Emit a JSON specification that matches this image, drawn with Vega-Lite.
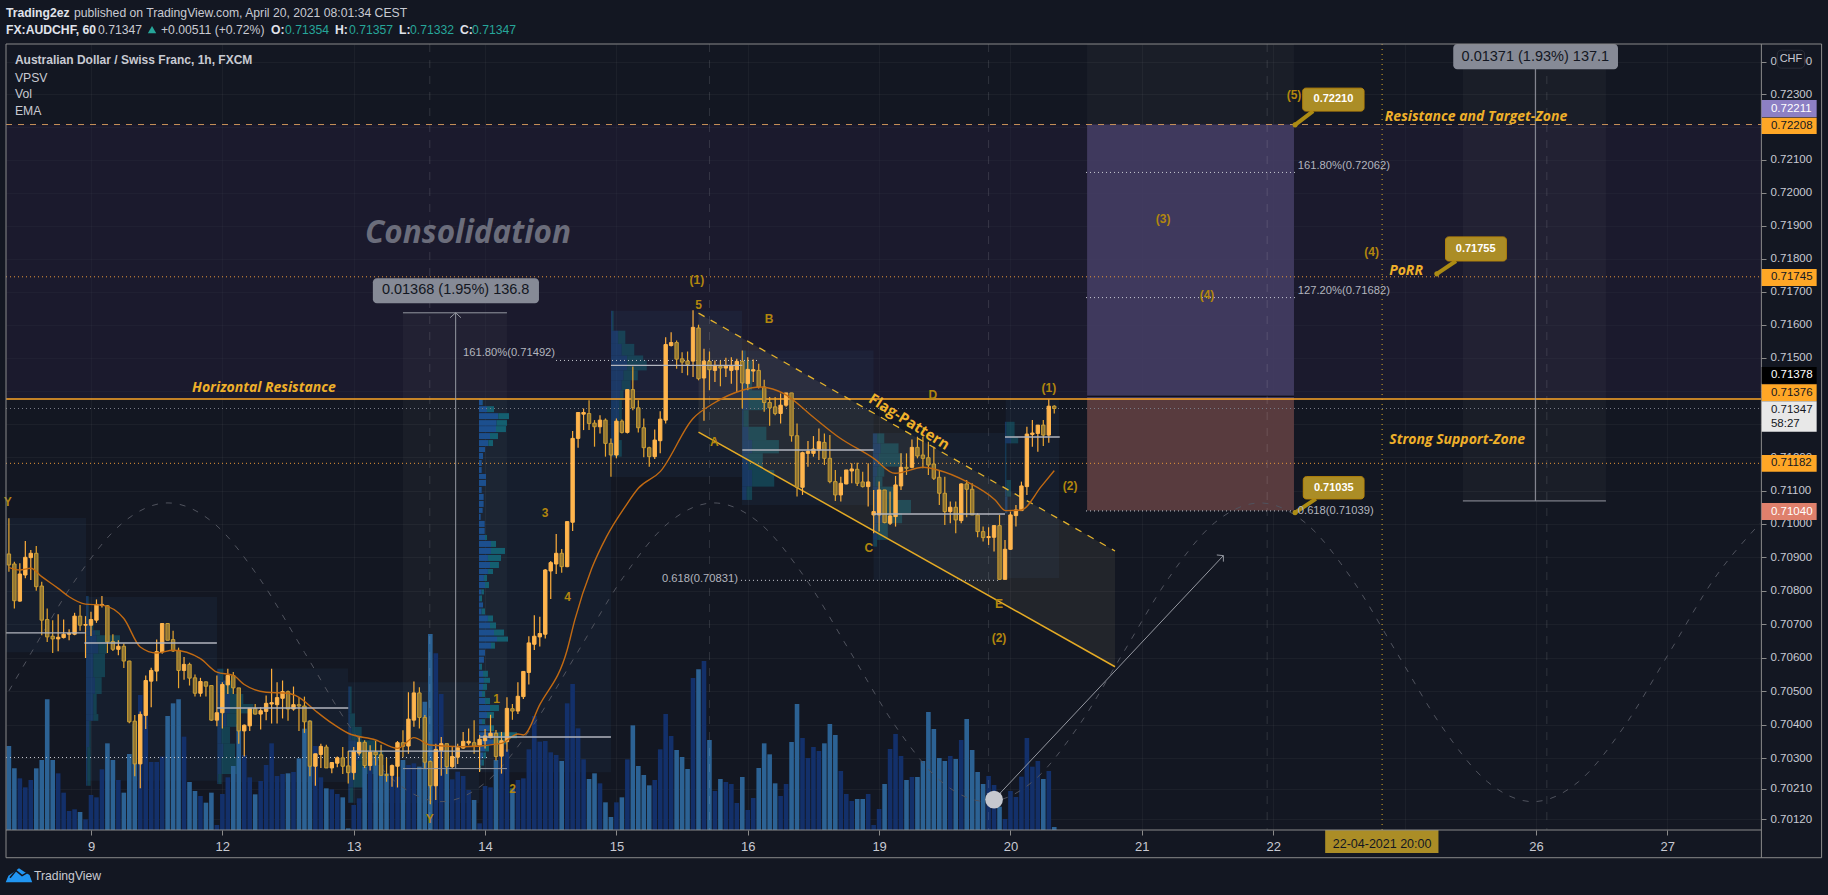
{
"$schema":"https://vega.github.io/schema/vega-lite/v6.json",
"width":1755,"height":786,
"autosize":{"type":"none"},
"padding":{"left":6,"top":44,"right":67,"bottom":65},
"background":"#131722",
"config":{"view":{"stroke":null},"text":{"font":"Liberation Sans"},"axis":{"labelFont":"Liberation Sans"}},
"datasets":{
"bars":[
{"h":-15,"o":0.70910,"hi":0.71017,"lo":0.70857,"c":0.70877,"v":252},
{"h":-14,"o":0.70880,"hi":0.70887,"lo":0.70747,"c":0.70770,"v":185},
{"h":-13,"o":0.70769,"hi":0.70882,"lo":0.70767,"c":0.70850,"v":155},
{"h":-12,"o":0.70847,"hi":0.70949,"lo":0.70837,"c":0.70900,"v":128},
{"h":-11,"o":0.70899,"hi":0.70922,"lo":0.70832,"c":0.70912,"v":150},
{"h":-10,"o":0.70912,"hi":0.70934,"lo":0.70800,"c":0.70812,"v":185},
{"h":-9,"o":0.70814,"hi":0.70827,"lo":0.70667,"c":0.70712,"v":210},
{"h":-8,"o":0.70714,"hi":0.70747,"lo":0.70647,"c":0.70662,"v":392},
{"h":-7,"o":0.70664,"hi":0.70712,"lo":0.70614,"c":0.70656,"v":210},
{"h":-6,"o":0.70656,"hi":0.70730,"lo":0.70619,"c":0.70661,"v":170},
{"h":-5,"o":0.70660,"hi":0.70714,"lo":0.70657,"c":0.70670,"v":112},
{"h":-4,"o":0.70670,"hi":0.70685,"lo":0.70652,"c":0.70672,"v":57},
{"h":-3,"o":0.70670,"hi":0.70734,"lo":0.70667,"c":0.70724,"v":62},
{"h":-2,"o":0.70724,"hi":0.70757,"lo":0.70680,"c":0.70697,"v":54},
{"h":-1,"o":0.70697,"hi":0.70724,"lo":0.70599,"c":0.70699,"v":32},
{"h":0,"o":0.70697,"hi":0.70737,"lo":0.70665,"c":0.70714,"v":105},
{"h":1,"o":0.70712,"hi":0.70774,"lo":0.70704,"c":0.70759,"v":98},
{"h":2,"o":0.70756,"hi":0.70784,"lo":0.70750,"c":0.70759,"v":182},
{"h":3,"o":0.70755,"hi":0.70757,"lo":0.70614,"c":0.70647,"v":260},
{"h":4,"o":0.70648,"hi":0.70670,"lo":0.70620,"c":0.70625,"v":210},
{"h":5,"o":0.70625,"hi":0.70652,"lo":0.70607,"c":0.70634,"v":150},
{"h":6,"o":0.70634,"hi":0.70642,"lo":0.70569,"c":0.70590,"v":112},
{"h":7,"o":0.70590,"hi":0.70591,"lo":0.70405,"c":0.70409,"v":228},
{"h":8,"o":0.70411,"hi":0.70429,"lo":0.70247,"c":0.70284,"v":317},
{"h":9,"o":0.70284,"hi":0.70440,"lo":0.70212,"c":0.70431,"v":405},
{"h":10,"o":0.70428,"hi":0.70547,"lo":0.70388,"c":0.70532,"v":342},
{"h":11,"o":0.70530,"hi":0.70570,"lo":0.70452,"c":0.70562,"v":204},
{"h":12,"o":0.70560,"hi":0.70654,"lo":0.70530,"c":0.70618,"v":204},
{"h":13,"o":0.70617,"hi":0.70702,"lo":0.70612,"c":0.70702,"v":220},
{"h":14,"o":0.70702,"hi":0.70702,"lo":0.70652,"c":0.70652,"v":342},
{"h":15,"o":0.70654,"hi":0.70680,"lo":0.70617,"c":0.70620,"v":380},
{"h":16,"o":0.70622,"hi":0.70630,"lo":0.70509,"c":0.70562,"v":392},
{"h":17,"o":0.70562,"hi":0.70602,"lo":0.70534,"c":0.70580,"v":280},
{"h":18,"o":0.70580,"hi":0.70585,"lo":0.70517,"c":0.70539,"v":144},
{"h":19,"o":0.70540,"hi":0.70550,"lo":0.70484,"c":0.70494,"v":117},
{"h":20,"o":0.70494,"hi":0.70540,"lo":0.70484,"c":0.70529,"v":102},
{"h":21,"o":0.70528,"hi":0.70529,"lo":0.70484,"c":0.70515,"v":82},
{"h":22,"o":0.70517,"hi":0.70517,"lo":0.70412,"c":0.70414,"v":112},
{"h":23,"o":0.70414,"hi":0.70547,"lo":0.70396,"c":0.70436,"v":15},
{"h":24,"o":0.70436,"hi":0.70527,"lo":0.70389,"c":0.70520,"v":108},
{"h":25,"o":0.70519,"hi":0.70567,"lo":0.70492,"c":0.70547,"v":158},
{"h":26,"o":0.70547,"hi":0.70557,"lo":0.70492,"c":0.70510,"v":192},
{"h":27,"o":0.70510,"hi":0.70510,"lo":0.70344,"c":0.70382,"v":317},
{"h":28,"o":0.70382,"hi":0.70401,"lo":0.70306,"c":0.70399,"v":225},
{"h":29,"o":0.70397,"hi":0.70449,"lo":0.70382,"c":0.70449,"v":158},
{"h":30,"o":0.70449,"hi":0.70462,"lo":0.70431,"c":0.70432,"v":107},
{"h":31,"o":0.70432,"hi":0.70452,"lo":0.70386,"c":0.70442,"v":147},
{"h":32,"o":0.70440,"hi":0.70487,"lo":0.70414,"c":0.70464,"v":195},
{"h":33,"o":0.70462,"hi":0.70567,"lo":0.70404,"c":0.70466,"v":260},
{"h":34,"o":0.70460,"hi":0.70527,"lo":0.70404,"c":0.70481,"v":162},
{"h":35,"o":0.70479,"hi":0.70532,"lo":0.70419,"c":0.70499,"v":168},
{"h":36,"o":0.70499,"hi":0.70502,"lo":0.70412,"c":0.70447,"v":170},
{"h":37,"o":0.70447,"hi":0.70514,"lo":0.70442,"c":0.70460,"v":174},
{"h":38,"o":0.70460,"hi":0.70482,"lo":0.70382,"c":0.70456,"v":215},
{"h":39,"o":0.70456,"hi":0.70484,"lo":0.70376,"c":0.70409,"v":304},
{"h":40,"o":0.70411,"hi":0.70414,"lo":0.70247,"c":0.70277,"v":328},
{"h":41,"o":0.70277,"hi":0.70314,"lo":0.70219,"c":0.70314,"v":252},
{"h":42,"o":0.70312,"hi":0.70344,"lo":0.70272,"c":0.70336,"v":158},
{"h":43,"o":0.70334,"hi":0.70341,"lo":0.70272,"c":0.70272,"v":125},
{"h":44,"o":0.70272,"hi":0.70289,"lo":0.70256,"c":0.70288,"v":122},
{"h":45,"o":0.70286,"hi":0.70306,"lo":0.70274,"c":0.70302,"v":108},
{"h":46,"o":0.70302,"hi":0.70334,"lo":0.70254,"c":0.70277,"v":98},
{"h":47,"o":0.70278,"hi":0.70322,"lo":0.70226,"c":0.70258,"v":5},
{"h":48,"o":0.70258,"hi":0.70334,"lo":0.70237,"c":0.70322,"v":75},
{"h":49,"o":0.70316,"hi":0.70364,"lo":0.70309,"c":0.70348,"v":95},
{"h":50,"o":0.70348,"hi":0.70354,"lo":0.70272,"c":0.70279,"v":190},
{"h":51,"o":0.70279,"hi":0.70339,"lo":0.70264,"c":0.70319,"v":212},
{"h":52,"o":0.70319,"hi":0.70352,"lo":0.70279,"c":0.70311,"v":220},
{"h":53,"o":0.70311,"hi":0.70341,"lo":0.70249,"c":0.70250,"v":195},
{"h":54,"o":0.70252,"hi":0.70302,"lo":0.70231,"c":0.70250,"v":170},
{"h":55,"o":0.70250,"hi":0.70282,"lo":0.70216,"c":0.70279,"v":162},
{"h":56,"o":0.70277,"hi":0.70352,"lo":0.70214,"c":0.70347,"v":160},
{"h":57,"o":0.70347,"hi":0.70384,"lo":0.70304,"c":0.70336,"v":210},
{"h":58,"o":0.70337,"hi":0.70497,"lo":0.70314,"c":0.70417,"v":195},
{"h":59,"o":0.70414,"hi":0.70529,"lo":0.70394,"c":0.70495,"v":200},
{"h":60,"o":0.70495,"hi":0.70512,"lo":0.70389,"c":0.70422,"v":190},
{"h":61,"o":0.70422,"hi":0.70429,"lo":0.70269,"c":0.70289,"v":385},
{"h":62,"o":0.70291,"hi":0.70294,"lo":0.70164,"c":0.70219,"v":588},
{"h":63,"o":0.70219,"hi":0.70344,"lo":0.70177,"c":0.70327,"v":530},
{"h":64,"o":0.70324,"hi":0.70364,"lo":0.70249,"c":0.70344,"v":408},
{"h":65,"o":0.70344,"hi":0.70344,"lo":0.70254,"c":0.70276,"v":210},
{"h":66,"o":0.70276,"hi":0.70334,"lo":0.70272,"c":0.70306,"v":152},
{"h":67,"o":0.70304,"hi":0.70344,"lo":0.70284,"c":0.70332,"v":175},
{"h":68,"o":0.70331,"hi":0.70379,"lo":0.70329,"c":0.70351,"v":162},
{"h":69,"o":0.70346,"hi":0.70389,"lo":0.70339,"c":0.70351,"v":120},
{"h":70,"o":0.70347,"hi":0.70414,"lo":0.70314,"c":0.70336,"v":90},
{"h":71,"o":0.70340,"hi":0.70370,"lo":0.70260,"c":0.70357,"v":20},
{"h":72,"o":0.70353,"hi":0.70388,"lo":0.70330,"c":0.70367,"v":132},
{"h":73,"o":0.70362,"hi":0.70430,"lo":0.70360,"c":0.70375,"v":128},
{"h":74,"o":0.70375,"hi":0.70385,"lo":0.70294,"c":0.70306,"v":210},
{"h":75,"o":0.70307,"hi":0.70379,"lo":0.70255,"c":0.70353,"v":270},
{"h":76,"o":0.70350,"hi":0.70482,"lo":0.70320,"c":0.70449,"v":242},
{"h":77,"o":0.70448,"hi":0.70462,"lo":0.70415,"c":0.70441,"v":125},
{"h":78,"o":0.70441,"hi":0.70527,"lo":0.70432,"c":0.70485,"v":150},
{"h":79,"o":0.70484,"hi":0.70560,"lo":0.70477,"c":0.70559,"v":155},
{"h":80,"o":0.70556,"hi":0.70664,"lo":0.70520,"c":0.70644,"v":242},
{"h":81,"o":0.70640,"hi":0.70727,"lo":0.70623,"c":0.70664,"v":342},
{"h":82,"o":0.70662,"hi":0.70722,"lo":0.70633,"c":0.70672,"v":265},
{"h":83,"o":0.70670,"hi":0.70865,"lo":0.70657,"c":0.70862,"v":267},
{"h":84,"o":0.70859,"hi":0.70889,"lo":0.70775,"c":0.70884,"v":233},
{"h":85,"o":0.70880,"hi":0.70970,"lo":0.70850,"c":0.70912,"v":225},
{"h":86,"o":0.70912,"hi":0.70925,"lo":0.70854,"c":0.70872,"v":207},
{"h":87,"o":0.70872,"hi":0.71007,"lo":0.70870,"c":0.71007,"v":380},
{"h":88,"o":0.71005,"hi":0.71279,"lo":0.70979,"c":0.71257,"v":438},
{"h":89,"o":0.71257,"hi":0.71335,"lo":0.71229,"c":0.71335,"v":305},
{"h":90,"o":0.71330,"hi":0.71347,"lo":0.71282,"c":0.71335,"v":212},
{"h":91,"o":0.71332,"hi":0.71372,"lo":0.71282,"c":0.71302,"v":153},
{"h":92,"o":0.71303,"hi":0.71312,"lo":0.71232,"c":0.71292,"v":170},
{"h":93,"o":0.71292,"hi":0.71327,"lo":0.71272,"c":0.71312,"v":140},
{"h":94,"o":0.71312,"hi":0.71317,"lo":0.71202,"c":0.71242,"v":83},
{"h":95,"o":0.71242,"hi":0.71257,"lo":0.71142,"c":0.71207,"v":39},
{"h":96,"o":0.71207,"hi":0.71317,"lo":0.71197,"c":0.71309,"v":83},
{"h":97,"o":0.71309,"hi":0.71314,"lo":0.71272,"c":0.71275,"v":98},
{"h":98,"o":0.71275,"hi":0.71404,"lo":0.71272,"c":0.71404,"v":212},
{"h":99,"o":0.71404,"hi":0.71474,"lo":0.71342,"c":0.71349,"v":314},
{"h":100,"o":0.71349,"hi":0.71372,"lo":0.71275,"c":0.71289,"v":192},
{"h":101,"o":0.71289,"hi":0.71317,"lo":0.71200,"c":0.71229,"v":165},
{"h":102,"o":0.71229,"hi":0.71232,"lo":0.71172,"c":0.71202,"v":134},
{"h":103,"o":0.71202,"hi":0.71284,"lo":0.71195,"c":0.71252,"v":150},
{"h":104,"o":0.71250,"hi":0.71339,"lo":0.71212,"c":0.71315,"v":242},
{"h":105,"o":0.71312,"hi":0.71562,"lo":0.71302,"c":0.71540,"v":348},
{"h":106,"o":0.71537,"hi":0.71577,"lo":0.71534,"c":0.71546,"v":282},
{"h":107,"o":0.71546,"hi":0.71552,"lo":0.71467,"c":0.71496,"v":240},
{"h":108,"o":0.71497,"hi":0.71517,"lo":0.71454,"c":0.71487,"v":219},
{"h":109,"o":0.71490,"hi":0.71519,"lo":0.71447,"c":0.71480,"v":183},
{"h":110,"o":0.71490,"hi":0.71644,"lo":0.71442,"c":0.71592,"v":456},
{"h":111,"o":0.71590,"hi":0.71600,"lo":0.71432,"c":0.71437,"v":482},
{"h":112,"o":0.71439,"hi":0.71527,"lo":0.71310,"c":0.71490,"v":507},
{"h":113,"o":0.71489,"hi":0.71519,"lo":0.71402,"c":0.71464,"v":270},
{"h":114,"o":0.71462,"hi":0.71492,"lo":0.71427,"c":0.71477,"v":117},
{"h":115,"o":0.71474,"hi":0.71492,"lo":0.71414,"c":0.71469,"v":153},
{"h":116,"o":0.71469,"hi":0.71500,"lo":0.71442,"c":0.71475,"v":144},
{"h":117,"o":0.71462,"hi":0.71502,"lo":0.71422,"c":0.71477,"v":138},
{"h":118,"o":0.71464,"hi":0.71497,"lo":0.71397,"c":0.71489,"v":81},
{"h":119,"o":0.71489,"hi":0.71522,"lo":0.71347,"c":0.71424,"v":159},
{"h":120,"o":0.71422,"hi":0.71502,"lo":0.71402,"c":0.71465,"v":60},
{"h":121,"o":0.71460,"hi":0.71495,"lo":0.71427,"c":0.71464,"v":96},
{"h":122,"o":0.71462,"hi":0.71482,"lo":0.71407,"c":0.71412,"v":186},
{"h":123,"o":0.71412,"hi":0.71434,"lo":0.71337,"c":0.71365,"v":260},
{"h":124,"o":0.71365,"hi":0.71382,"lo":0.71295,"c":0.71349,"v":227},
{"h":125,"o":0.71352,"hi":0.71382,"lo":0.71327,"c":0.71332,"v":140},
{"h":126,"o":0.71332,"hi":0.71392,"lo":0.71302,"c":0.71357,"v":102},
{"h":127,"o":0.71357,"hi":0.71394,"lo":0.71352,"c":0.71394,"v":138},
{"h":128,"o":0.71394,"hi":0.71394,"lo":0.71247,"c":0.71265,"v":264},
{"h":129,"o":0.71265,"hi":0.71302,"lo":0.71082,"c":0.71110,"v":378},
{"h":130,"o":0.71110,"hi":0.71217,"lo":0.71087,"c":0.71214,"v":276},
{"h":131,"o":0.71212,"hi":0.71249,"lo":0.71172,"c":0.71218,"v":216},
{"h":132,"o":0.71212,"hi":0.71264,"lo":0.71202,"c":0.71225,"v":249},
{"h":133,"o":0.71222,"hi":0.71287,"lo":0.71192,"c":0.71247,"v":237},
{"h":134,"o":0.71245,"hi":0.71272,"lo":0.71177,"c":0.71197,"v":260},
{"h":135,"o":0.71197,"hi":0.71267,"lo":0.71122,"c":0.71127,"v":318},
{"h":136,"o":0.71127,"hi":0.71162,"lo":0.71069,"c":0.71087,"v":285},
{"h":137,"o":0.71087,"hi":0.71142,"lo":0.71067,"c":0.71122,"v":177},
{"h":138,"o":0.71120,"hi":0.71162,"lo":0.71119,"c":0.71162,"v":108},
{"h":139,"o":0.71159,"hi":0.71182,"lo":0.71122,"c":0.71165,"v":87},
{"h":140,"o":0.71164,"hi":0.71184,"lo":0.71114,"c":0.71122,"v":93},
{"h":141,"o":0.71126,"hi":0.71157,"lo":0.71109,"c":0.71112,"v":93},
{"h":142,"o":0.71112,"hi":0.71182,"lo":0.71052,"c":0.71126,"v":108},
{"h":143,"o":0.71027,"hi":0.71102,"lo":0.70972,"c":0.71037,"v":15},
{"h":144,"o":0.71027,"hi":0.71127,"lo":0.70977,"c":0.71102,"v":63},
{"h":145,"o":0.71102,"hi":0.71102,"lo":0.71002,"c":0.71004,"v":138},
{"h":146,"o":0.71002,"hi":0.71097,"lo":0.70997,"c":0.71024,"v":243},
{"h":147,"o":0.71022,"hi":0.71144,"lo":0.70992,"c":0.71117,"v":288},
{"h":148,"o":0.71114,"hi":0.71212,"lo":0.71102,"c":0.71170,"v":222},
{"h":149,"o":0.71170,"hi":0.71212,"lo":0.71147,"c":0.71167,"v":150},
{"h":150,"o":0.71170,"hi":0.71254,"lo":0.71167,"c":0.71230,"v":159},
{"h":151,"o":0.71230,"hi":0.71262,"lo":0.71197,"c":0.71204,"v":159},
{"h":152,"o":0.71207,"hi":0.71262,"lo":0.71167,"c":0.71197,"v":207},
{"h":153,"o":0.71199,"hi":0.71247,"lo":0.71147,"c":0.71177,"v":354},
{"h":154,"o":0.71180,"hi":0.71232,"lo":0.71132,"c":0.71137,"v":303},
{"h":155,"o":0.71140,"hi":0.71162,"lo":0.71057,"c":0.71092,"v":216},
{"h":156,"o":0.71092,"hi":0.71142,"lo":0.70997,"c":0.71037,"v":207},
{"h":157,"o":0.71037,"hi":0.71067,"lo":0.71002,"c":0.71050,"v":222},
{"h":158,"o":0.71050,"hi":0.71067,"lo":0.70972,"c":0.71012,"v":213},
{"h":159,"o":0.71010,"hi":0.71122,"lo":0.71002,"c":0.71120,"v":270},
{"h":160,"o":0.71120,"hi":0.71132,"lo":0.71020,"c":0.71104,"v":333},
{"h":161,"o":0.71104,"hi":0.71122,"lo":0.71027,"c":0.71027,"v":240},
{"h":162,"o":0.71027,"hi":0.71032,"lo":0.70960,"c":0.70977,"v":174},
{"h":163,"o":0.70977,"hi":0.70992,"lo":0.70947,"c":0.70959,"v":138},
{"h":164,"o":0.70959,"hi":0.70990,"lo":0.70937,"c":0.70962,"v":162},
{"h":165,"o":0.70960,"hi":0.70995,"lo":0.70917,"c":0.70995,"v":135},
{"h":166,"o":0.70995,"hi":0.71027,"lo":0.70834,"c":0.70834,"v":70},
{"h":167,"o":0.70834,"hi":0.70952,"lo":0.70834,"c":0.70924,"v":33},
{"h":168,"o":0.70924,"hi":0.71037,"lo":0.70922,"c":0.71027,"v":117},
{"h":169,"o":0.71025,"hi":0.71057,"lo":0.70992,"c":0.71042,"v":99},
{"h":170,"o":0.71040,"hi":0.71127,"lo":0.71040,"c":0.71114,"v":160},
{"h":171,"o":0.71112,"hi":0.71292,"lo":0.71087,"c":0.71270,"v":276},
{"h":172,"o":0.71269,"hi":0.71312,"lo":0.71232,"c":0.71273,"v":190},
{"h":173,"o":0.71272,"hi":0.71297,"lo":0.71217,"c":0.71297,"v":207},
{"h":174,"o":0.71297,"hi":0.71312,"lo":0.71234,"c":0.71267,"v":153},
{"h":175,"o":0.71267,"hi":0.71374,"lo":0.71244,"c":0.71354,"v":177},
{"h":176,"o":0.71354,"hi":0.71357,"lo":0.71332,"c":0.71347,"v":9}
],
"vp":[
{"h":-0.91,"h2":-0.55,"h3":-0.43,"p":0.70784,"p2":0.70712},
{"h":-0.91,"h2":0.12,"h3":0.43,"p":0.70712,"p2":0.70682},
{"h":-0.91,"h2":0.73,"h3":1.64,"p":0.70682,"p2":0.70667},
{"h":-0.91,"h2":1.04,"h3":5.3,"p":0.70667,"p2":0.70642},
{"h":-0.91,"h2":1.34,"h3":2.86,"p":0.70642,"p2":0.70612},
{"h":-0.91,"h2":0.43,"h3":2.56,"p":0.70612,"p2":0.70542},
{"h":-0.91,"h2":0.73,"h3":1.95,"p":0.70542,"p2":0.70492},
{"h":-0.91,"h2":0.43,"h3":1.04,"p":0.70492,"p2":0.70432},
{"h":-0.91,"h2":0.43,"h3":1.34,"p":0.70432,"p2":0.70412},
{"h":-0.91,"h2":-0.3,"h3":-0.06,"p":0.70412,"p2":0.70334},
{"h":-0.91,"h2":-0.67,"h3":-0.06,"p":0.70334,"p2":0.70219},
{"h":23.08,"h2":23.57,"h3":24.18,"p":0.70567,"p2":0.70532},
{"h":23.08,"h2":24.48,"h3":26.0,"p":0.70532,"p2":0.70492},
{"h":23.08,"h2":25.4,"h3":27.83,"p":0.70492,"p2":0.70462},
{"h":23.08,"h2":25.4,"h3":29.66,"p":0.70462,"p2":0.70434},
{"h":23.08,"h2":24.79,"h3":27.22,"p":0.70434,"p2":0.70394},
{"h":23.08,"h2":23.87,"h3":25.4,"p":0.70394,"p2":0.70344},
{"h":23.08,"h2":24.18,"h3":26.31,"p":0.70344,"p2":0.70304},
{"h":23.08,"h2":23.87,"h3":27.22,"p":0.70304,"p2":0.70254},
{"h":23.08,"h2":23.26,"h3":23.87,"p":0.70254,"p2":0.70224},
{"h":47.01,"h2":47.32,"h3":47.62,"p":0.70514,"p2":0.70434},
{"h":47.01,"h2":47.32,"h3":48.23,"p":0.70434,"p2":0.70394},
{"h":47.01,"h2":47.62,"h3":49.45,"p":0.70394,"p2":0.70354},
{"h":47.01,"h2":48.54,"h3":52.19,"p":0.70354,"p2":0.70322},
{"h":47.01,"h2":49.15,"h3":53.41,"p":0.70322,"p2":0.70294},
{"h":47.01,"h2":48.54,"h3":52.19,"p":0.70294,"p2":0.70254},
{"h":47.01,"h2":47.93,"h3":49.75,"p":0.70254,"p2":0.70214},
{"h":47.01,"h2":47.32,"h3":47.93,"p":0.70214,"p2":0.70169},
{"h":70.89,"h2":71.56,"h3":71.62,"p":0.71374,"p2":0.71357},
{"h":70.89,"h2":72.35,"h3":73.63,"p":0.71354,"p2":0.71336},
{"h":70.89,"h2":74.42,"h3":76.37,"p":0.71333,"p2":0.71315},
{"h":70.89,"h2":74.12,"h3":76.0,"p":0.71312,"p2":0.71295},
{"h":70.89,"h2":74.0,"h3":75.82,"p":0.71294,"p2":0.71276},
{"h":70.89,"h2":72.9,"h3":74.36,"p":0.71273,"p2":0.71255},
{"h":70.89,"h2":72.6,"h3":73.45,"p":0.71252,"p2":0.71234},
{"h":70.89,"h2":71.99,"h3":71.99,"p":0.71231,"p2":0.71216},
{"h":70.89,"h2":71.62,"h3":71.62,"p":0.71213,"p2":0.71195},
{"h":70.89,"h2":71.38,"h3":71.38,"p":0.71192,"p2":0.71174},
{"h":70.89,"h2":71.38,"h3":71.38,"p":0.71171,"p2":0.71153},
{"h":70.89,"h2":72.17,"h3":72.17,"p":0.7115,"p2":0.71135},
{"h":70.89,"h2":72.17,"h3":72.17,"p":0.71132,"p2":0.71114},
{"h":70.89,"h2":71.38,"h3":71.38,"p":0.71111,"p2":0.71093},
{"h":70.89,"h2":71.74,"h3":71.74,"p":0.7109,"p2":0.71072},
{"h":70.89,"h2":71.74,"h3":71.74,"p":0.71069,"p2":0.71051},
{"h":70.89,"h2":71.56,"h3":71.56,"p":0.71048,"p2":0.71033},
{"h":70.89,"h2":71.2,"h3":71.2,"p":0.7103,"p2":0.71012},
{"h":70.89,"h2":71.93,"h3":71.93,"p":0.71009,"p2":0.70991},
{"h":70.89,"h2":71.93,"h3":71.93,"p":0.70988,"p2":0.7097},
{"h":70.89,"h2":71.99,"h3":72.35,"p":0.70967,"p2":0.70952},
{"h":70.89,"h2":73.08,"h3":74.0,"p":0.70949,"p2":0.70931},
{"h":70.89,"h2":73.08,"h3":75.64,"p":0.70928,"p2":0.7091},
{"h":70.89,"h2":72.53,"h3":74.91,"p":0.70907,"p2":0.70889},
{"h":70.89,"h2":72.9,"h3":74.54,"p":0.70886,"p2":0.70868},
{"h":70.89,"h2":72.53,"h3":73.45,"p":0.70865,"p2":0.7085},
{"h":70.89,"h2":71.8,"h3":72.35,"p":0.70847,"p2":0.70829},
{"h":70.89,"h2":71.99,"h3":72.72,"p":0.70826,"p2":0.70808},
{"h":70.89,"h2":71.38,"h3":71.8,"p":0.70804,"p2":0.70789},
{"h":70.89,"h2":71.07,"h3":71.44,"p":0.70786,"p2":0.70768},
{"h":70.89,"h2":71.62,"h3":71.62,"p":0.70765,"p2":0.7075},
{"h":70.89,"h2":71.38,"h3":71.99,"p":0.70747,"p2":0.70729},
{"h":70.89,"h2":72.53,"h3":73.45,"p":0.70726,"p2":0.70708},
{"h":70.89,"h2":72.9,"h3":74.0,"p":0.70705,"p2":0.70687},
{"h":70.89,"h2":73.63,"h3":75.46,"p":0.70684,"p2":0.70666},
{"h":70.89,"h2":74.18,"h3":76.19,"p":0.70663,"p2":0.70648},
{"h":70.89,"h2":73.08,"h3":73.81,"p":0.70645,"p2":0.70627},
{"h":70.89,"h2":71.99,"h3":71.99,"p":0.70624,"p2":0.70606},
{"h":70.89,"h2":71.8,"h3":71.8,"p":0.70603,"p2":0.70585},
{"h":70.89,"h2":71.07,"h3":71.44,"p":0.70582,"p2":0.70564},
{"h":70.89,"h2":71.62,"h3":72.53,"p":0.70561,"p2":0.70543},
{"h":70.89,"h2":71.8,"h3":72.9,"p":0.7054,"p2":0.70525},
{"h":70.89,"h2":71.62,"h3":72.35,"p":0.70522,"p2":0.70504},
{"h":70.89,"h2":71.44,"h3":71.99,"p":0.70501,"p2":0.70483},
{"h":70.89,"h2":71.99,"h3":72.9,"p":0.7048,"p2":0.70462},
{"h":70.89,"h2":72.9,"h3":74.54,"p":0.70459,"p2":0.70441},
{"h":70.89,"h2":72.35,"h3":73.63,"p":0.70438,"p2":0.7042},
{"h":70.89,"h2":71.44,"h3":71.99,"p":0.70417,"p2":0.70402},
{"h":70.89,"h2":72.72,"h3":73.63,"p":0.70399,"p2":0.70381},
{"h":70.89,"h2":74.42,"h3":77.83,"p":0.70378,"p2":0.7036},
{"h":70.89,"h2":73.45,"h3":76.0,"p":0.70357,"p2":0.70342},
{"h":70.89,"h2":71.99,"h3":72.72,"p":0.70339,"p2":0.70321},
{"h":70.89,"h2":71.68,"h3":72.17,"p":0.70318,"p2":0.703},
{"h":70.89,"h2":71.38,"h3":71.8,"p":0.70297,"p2":0.70279},
{"h":70.89,"h2":71.07,"h3":71.26,"p":0.70279,"p2":0.70264},
{"h":95.02,"h2":95.2,"h3":95.48,"p":0.71642,"p2":0.71582},
{"h":95.02,"h2":96.32,"h3":97.63,"p":0.71582,"p2":0.71542},
{"h":95.02,"h2":96.98,"h3":99.26,"p":0.71542,"p2":0.71507},
{"h":95.02,"h2":97.96,"h3":100.89,"p":0.71507,"p2":0.71492},
{"h":95.02,"h2":97.96,"h3":101.54,"p":0.71492,"p2":0.71462},
{"h":95.02,"h2":97.3,"h3":99.91,"p":0.71462,"p2":0.71432},
{"h":95.02,"h2":96.98,"h3":98.61,"p":0.71432,"p2":0.71402},
{"h":95.02,"h2":96.65,"h3":97.3,"p":0.71402,"p2":0.71372},
{"h":95.02,"h2":96.52,"h3":96.98,"p":0.71372,"p2":0.71312},
{"h":95.02,"h2":96.0,"h3":96.52,"p":0.71312,"p2":0.71252},
{"h":95.02,"h2":95.67,"h3":96.98,"p":0.71252,"p2":0.71202},
{"h":118.97,"h2":119.36,"h3":119.62,"p":0.71522,"p2":0.71492},
{"h":118.97,"h2":119.49,"h3":120.79,"p":0.71492,"p2":0.71402},
{"h":118.97,"h2":120.14,"h3":123.4,"p":0.71402,"p2":0.71342},
{"h":118.97,"h2":119.23,"h3":120.14,"p":0.71342,"p2":0.71292},
{"h":118.97,"h2":120.14,"h3":123.4,"p":0.71292,"p2":0.71252},
{"h":118.97,"h2":120.79,"h3":125.69,"p":0.71252,"p2":0.71212},
{"h":118.97,"h2":120.14,"h3":122.75,"p":0.71212,"p2":0.71162},
{"h":118.97,"h2":120.79,"h3":124.84,"p":0.71162,"p2":0.71112},
{"h":118.97,"h2":119.81,"h3":120.79,"p":0.71112,"p2":0.71072},
{"h":142.85,"h2":143.63,"h3":144.94,"p":0.71272,"p2":0.71242},
{"h":142.85,"h2":144.28,"h3":147.55,"p":0.71242,"p2":0.71212},
{"h":142.85,"h2":143.96,"h3":148.2,"p":0.71212,"p2":0.71172},
{"h":142.85,"h2":143.63,"h3":144.94,"p":0.71172,"p2":0.71142},
{"h":142.85,"h2":143.3,"h3":144.61,"p":0.71142,"p2":0.71112},
{"h":142.85,"h2":143.96,"h3":146.89,"p":0.71112,"p2":0.71072},
{"h":142.85,"h2":144.94,"h3":149.83,"p":0.71072,"p2":0.71032},
{"h":142.85,"h2":144.94,"h3":148.2,"p":0.71032,"p2":0.71002},
{"h":142.85,"h2":143.63,"h3":145.59,"p":0.71002,"p2":0.70952},
{"h":142.85,"h2":142.98,"h3":143.63,"p":0.70952,"p2":0.70932},
{"h":166.99,"h2":167.25,"h3":168.75,"p":0.71307,"p2":0.71262},
{"h":166.99,"h2":168.1,"h3":169.41,"p":0.71262,"p2":0.71242},
{"h":166.99,"h2":167.12,"h3":167.25,"p":0.71242,"p2":0.71132},
{"h":166.99,"h2":167.25,"h3":168.1,"p":0.71132,"p2":0.71082},
{"h":166.99,"h2":167.45,"h3":167.45,"p":0.71082,"p2":0.71032}
]
},
"encoding":{
"x":{"field":"h","type":"quantitative","scale":{"domain":[-15.53,305.13],"nice":false,"zero":false,"padding":0},
 "axis":{"values":[0,24,48,72,96,120,144,168,192,216,240,264,288],"labelExpr":"['9','12','13','14','15','16','19','20','21','22','23','26','27'][datum.value/24]","title":null,"grid":true,"gridColor":"#ffffff","gridOpacity":0.04,"domain":false,"tickColor":"#8a8a8a","tickSize":5,"labelColor":"#c8cad2","labelFontSize":13,"labelPadding":5,"labelFlush":false,"labelOverlap":false}},
"y":{"field":"p","type":"quantitative","scale":{"type":"log","domain":[0.70088,0.72454],"nice":false,"zero":false},"axis":null}
},
"resolve":{"scale":{"y":"independent"}},
"layer":[
{"encoding":{"y":{"field":"p","type":"quantitative","scale":{"type":"log","domain":[0.70088,0.72454],"nice":false,"zero":false},
    "axis":{"orient":"right","values":[0.724,0.723,0.722,0.721,0.72,0.719,0.718,0.717,0.716,0.715,0.714,0.713,0.712,0.711,0.71,0.709,0.708,0.707,0.706,0.705,0.704,0.703,0.7021,0.7012],"format":".5f","title":null,"grid":true,"gridColor":"#ffffff","gridOpacity":0.04,"domain":false,"tickColor":"#8a8a8a","tickSize":5,"labelColor":"#c8cad2","labelFontSize":11.5,"labelPadding":4,"labelOverlap":false,"labelFlush":false}}},
"layer":[
 {"mark":{"type":"rect","fill":"#28213e","opacity":0.4},
  "data":{"values":[{"h":-15.53,"h2":305.13,"p":0.72208,"p2":0.71376}]},
  "encoding":{"x2":{"field":"h2"},"y2":{"field":"p2"}}},
 {"mark":{"type":"rect","fill":"#ffffff","opacity":0.03},
  "data":{"values":[{"h":182.0,"h2":219.8,"p":0.72454,"p2":0.72208},{"h":250.66,"h2":276.8,"p":0.72454,"p2":0.71069},{"h":57.0,"h2":76.0,"p":0.71636,"p2":0.7027}]},
  "encoding":{"x2":{"field":"h2"},"y2":{"field":"p2"}}},
 {"mark":{"type":"rect","fill":"#3b6ea5","opacity":0.09},
  "data":{"values":[
   {"h":-15.53,"h2":-0.91,"p":0.71018,"p2":0.70616},{"h":-0.91,"h2":23.02,"p":0.70781,"p2":0.70234},{"h":23.02,"h2":46.96,"p":0.70568,"p2":0.7023},{"h":46.96,"h2":70.89,"p":0.70527,"p2":0.70168},{"h":70.89,"h2":95.01,"p":0.71376,"p2":0.70259},{"h":95.01,"h2":118.95,"p":0.71642,"p2":0.71141},{"h":118.95,"h2":142.99,"p":0.71522,"p2":0.71057},{"h":142.99,"h2":167.13,"p":0.71273,"p2":0.70832},{"h":167.13,"h2":176.87,"p":0.71376,"p2":0.70838}]},
  "encoding":{"x2":{"field":"h2"},"y2":{"field":"p2"}}},
 {"mark":{"type":"rect","fill":"#1c4f8e"},"data":{"name":"vp"},"encoding":{"x2":{"field":"h2"},"y2":{"field":"p2"},"opacity":{"condition":{"test":"datum.h==70.89","value":1},"value":0.55}}},
 {"mark":{"type":"rect","fill":"#145f70"},"data":{"name":"vp"},"encoding":{"x":{"field":"h2","type":"quantitative","scale":{"domain":[-15.53,305.13],"nice":false,"zero":false,"padding":0},"axis":{"values":[0,24,48,72,96,120,144,168,192,216,240,264,288],"labelExpr":"['9','12','13','14','15','16','19','20','21','22','23','26','27'][datum.value/24]","title":null,"grid":true,"gridColor":"#ffffff","gridOpacity":0.04,"domain":false,"tickColor":"#8a8a8a","tickSize":5,"labelColor":"#c8cad2","labelFontSize":13,"labelPadding":5,"labelFlush":false,"labelOverlap":false}},"x2":{"field":"h3"},"y2":{"field":"p2"},"opacity":{"condition":{"test":"datum.h==70.89","value":1},"value":0.55}}}
]},
{"mark":{"type":"bar","orient":"vertical","size":4.6},
 "data":{"name":"bars"},
 "encoding":{"y":{"field":"v","type":"quantitative","scale":{"domain":[0,2358],"nice":false},"axis":null},
  "fill":{"condition":{"test":"datum.c>=datum.o","value":"#13306a"},"value":"#2c6294"}}},
{"layer":[
 {"mark":{"type":"rect","fill":"#443d63","opacity":0.9},"data":{"values":[{"h":182.0,"h2":219.8,"p":0.72208,"p2":0.71378}]},"encoding":{"x2":{"field":"h2"},"y2":{"field":"p2"}}},
 {"mark":{"type":"rect","fill":"#5c3d40","opacity":0.95},"data":{"values":[{"h":182.0,"h2":219.8,"p":0.71378,"p2":0.7104}]},"encoding":{"x2":{"field":"h2"},"y2":{"field":"p2"}}},
 {"mark":{"type":"rule","color":"#000000","strokeWidth":1},"data":{"values":[{"h":182.0,"h2":219.8,"p":0.71384}]},"encoding":{"x2":{"field":"h2"}}},
 {"mark":{"type":"rule","color":"#ffffff","opacity":0.12,"strokeWidth":1,"strokeDash":[8,8]},
  "data":{"values":[{"h":61.9,"p":0.72454,"p2":0.70088},{"h":113.0,"p":0.72454,"p2":0.70088},{"h":164.0,"p":0.72454,"p2":0.70088},{"h":214.9,"p":0.72454,"p2":0.70088},{"h":266.0,"p":0.72454,"p2":0.70088}]},
  "encoding":{"y2":{"field":"p2"}}},
 {"mark":{"type":"line","color":"#50535e","strokeWidth":1,"strokeDash":[6,8],"interpolate":"monotone"},
  "data":{"values":[{"h":-15,"p":0.70501},{"h":-10.87,"p":0.70616},{"h":-2.56,"p":0.70839},{"h":5.76,"p":0.71003},{"h":14.07,"p":0.71063},{"h":22.38,"p":0.71003},{"h":30.69,"p":0.70839},{"h":39.0,"p":0.70616},{"h":47.32,"p":0.70394},{"h":55.63,"p":0.70231},{"h":63.95,"p":0.70172},{"h":72.26,"p":0.70231},{"h":80.58,"p":0.70394},{"h":88.89,"p":0.70616},{"h":97.2,"p":0.70839},{"h":105.5,"p":0.71003},{"h":113.83,"p":0.71063},{"h":122.14,"p":0.71003},{"h":130.45,"p":0.70839},{"h":138.77,"p":0.70616},{"h":147.08,"p":0.70394},{"h":155.39,"p":0.70231},{"h":163.71,"p":0.70172},{"h":172.02,"p":0.70231},{"h":180.33,"p":0.70394},{"h":188.65,"p":0.70616},{"h":196.96,"p":0.70839},{"h":205.27,"p":0.71003},{"h":213.59,"p":0.71063},{"h":221.9,"p":0.71003},{"h":230.21,"p":0.70839},{"h":238.53,"p":0.70616},{"h":246.84,"p":0.70394},{"h":255.15,"p":0.70231},{"h":263.47,"p":0.70172},{"h":271.78,"p":0.70231},{"h":280.09,"p":0.70394},{"h":288.41,"p":0.70616},{"h":296.72,"p":0.70839},{"h":305.03,"p":0.71003}]}},
 {"mark":{"type":"area","fill":"#f5e6b0","opacity":0.07},"data":{"values":[{"h":111,"p":0.71635,"p2":0.71276},{"h":187.1,"p":0.70919,"p2":0.70573}]},"encoding":{"y2":{"field":"p2"}}},
 {"mark":{"type":"rule","color":"#e5b32c","strokeWidth":1.3,"strokeDash":[7,7]},"data":{"values":[{"h":111,"p":0.71635,"h2":187.1,"p2":0.70919}]},"encoding":{"x2":{"field":"h2"},"y2":{"field":"p2"}}},
 {"mark":{"type":"rule","color":"#e5ab25","strokeWidth":1.5},"data":{"values":[{"h":111,"p":0.71276,"h2":187.1,"p2":0.70573}]},"encoding":{"x2":{"field":"h2"},"y2":{"field":"p2"}}},
 {"mark":{"type":"rule","color":"#c69058","strokeWidth":1,"strokeDash":[6,6]},"data":{"values":[{"h":-15.53,"h2":305.13,"p":0.72208}]},"encoding":{"x2":{"field":"h2"}}},
 {"mark":{"type":"rule","color":"#e8973a","strokeWidth":1,"strokeDash":[1,3]},"data":{"values":[{"h":-15.53,"h2":305.13,"p":0.71745},{"h":-15.53,"h2":305.13,"p":0.71182}]},"encoding":{"x2":{"field":"h2"}}},
 {"mark":{"type":"rule","color":"#787b86","strokeWidth":1,"strokeDash":[1,3]},"data":{"values":[{"h":-15.53,"h2":305.13,"p":0.71347}]},"encoding":{"x2":{"field":"h2"}}},
 {"mark":{"type":"rule","color":"#c8cad2","strokeWidth":1,"strokeDash":[1,3]},
  "data":{"values":[{"h":-15.53,"h2":72.6,"p":0.70303},{"h":84.96,"h2":121.87,"p":0.71492},{"h":118.76,"h2":165.8,"p":0.70831},{"h":181.8,"h2":219.98,"p":0.72062},{"h":181.8,"h2":219.98,"p":0.71682},{"h":181.8,"h2":219.98,"p":0.71039}]},"encoding":{"x2":{"field":"h2"}}},
 {"mark":{"type":"rule","color":"#d9a92b","strokeWidth":1,"strokeDash":[1,4]},"data":{"values":[{"h":235.9,"p":0.72454,"p2":0.70088}]},"encoding":{"y2":{"field":"p2"}}},
 {"mark":{"type":"rule","color":"#ffa726","strokeWidth":1.5},"data":{"values":[{"h":-15.53,"h2":305.13,"p":0.71376}]},"encoding":{"x2":{"field":"h2"}}},
 {"mark":{"type":"rule","strokeWidth":1.2},"data":{"name":"bars"},
  "encoding":{"y":{"field":"lo","type":"quantitative","scale":{"type":"log","domain":[0.70088,0.72454],"nice":false,"zero":false},"axis":null},"y2":{"field":"hi"},
   "stroke":{"condition":{"test":"datum.c>=datum.o","value":"#ffae3b"},"value":"#e8a52e"}}},
 {"mark":{"type":"bar","orient":"vertical","size":3.4,"strokeWidth":1},"data":{"name":"bars"},
  "encoding":{"y":{"field":"o","type":"quantitative","scale":{"type":"log","domain":[0.70088,0.72454],"nice":false,"zero":false},"axis":null},"y2":{"field":"c"},
   "fill":{"condition":{"test":"datum.c>=datum.o","value":"#ffb54d"},"value":"#8f7433"},
   "stroke":{"condition":{"test":"datum.c>=datum.o","value":"#ffb54d"},"value":"#c79c34"}}},
 {"mark":{"type":"line","color":"#c26a12","strokeWidth":1.4,"interpolate":"monotone"},
  "data":{"values":[{"h":-15,"p":0.7087},{"h":-13,"p":0.70862},{"h":-11,"p":0.70867},{"h":-9,"p":0.70842},{"h":-6,"p":0.70807},{"h":-4,"p":0.70782},{"h":-1,"p":0.7076},{"h":2,"p":0.70757},{"h":6,"p":0.70717},{"h":9,"p":0.70632},{"h":12,"p":0.70614},{"h":15,"p":0.70622},{"h":20,"p":0.70597},{"h":23,"p":0.70557},{"h":26,"p":0.70547},{"h":28,"p":0.7052},{"h":32,"p":0.70497},{"h":36,"p":0.70494},{"h":38,"p":0.70482},{"h":41,"p":0.70442},{"h":44,"p":0.70405},{"h":47,"p":0.70375},{"h":52,"p":0.70355},{"h":56,"p":0.7033},{"h":59,"p":0.70362},{"h":62,"p":0.7034},{"h":68,"p":0.70335},{"h":75,"p":0.70345},{"h":78,"p":0.70373},{"h":79,"p":0.7037},{"h":82,"p":0.7046},{"h":87,"p":0.70623},{"h":88.4,"p":0.70713},{"h":91.5,"p":0.70867},{"h":94.2,"p":0.70962},{"h":97.6,"p":0.71052},{"h":100,"p":0.71107},{"h":104,"p":0.71157},{"h":110,"p":0.71317},{"h":113.7,"p":0.71362},{"h":119,"p":0.71402},{"h":122.1,"p":0.71412},{"h":126.6,"p":0.71392},{"h":131.9,"p":0.71322},{"h":136.5,"p":0.71262},{"h":143,"p":0.71197},{"h":146.9,"p":0.71152},{"h":152.1,"p":0.7117},{"h":154.7,"p":0.71162},{"h":160,"p":0.71127},{"h":165.2,"p":0.71072},{"h":167.1,"p":0.7104},{"h":170,"p":0.71042},{"h":173.6,"p":0.71112},{"h":176,"p":0.7116}]}},
 {"mark":{"type":"rule","color":"#b2b5be","strokeWidth":1.4},
  "data":{"values":[{"h":-15.53,"h2":-0.91,"p":0.70674},{"h":-1.2,"h2":23,"p":0.70644},{"h":23,"h2":47,"p":0.7045},{"h":47,"h2":71,"p":0.70322},{"h":71,"h2":95,"p":0.70364},{"h":95,"h2":119,"p":0.71477},{"h":119,"h2":143,"p":0.71222},{"h":143,"h2":167,"p":0.7103},{"h":167,"h2":177,"p":0.71261}]},"encoding":{"x2":{"field":"h2"}}},
 {"mark":{"type":"rule","color":"#9598a1","strokeWidth":1},
  "data":{"values":[{"h":66.63,"p":0.71636,"h2":66.63,"p2":0.7027},{"h":57.0,"p":0.71636,"h2":76.0,"p2":0.71636},{"h":57.0,"p":0.7027,"h2":76.0,"p2":0.7027},{"h":66.63,"p":0.71636,"h2":65.6,"p2":0.71621},{"h":66.63,"p":0.71636,"h2":67.6,"p2":0.71621},{"h":263.9,"p":0.72435,"h2":263.9,"p2":0.71069},{"h":250.66,"p":0.72435,"h2":276.8,"p2":0.72435},{"h":250.66,"p":0.71069,"h2":276.8,"p2":0.71069},{"h":165,"p":0.70178,"h2":206.9,"p2":0.70905},{"h":206.9,"p":0.70905,"h2":205.7,"p2":0.70907},{"h":206.9,"p":0.70905,"h2":206.9,"p2":0.70887}]},
  "encoding":{"x2":{"field":"h2"},"y2":{"field":"p2"}}},
 {"mark":{"type":"point","filled":true,"size":314,"color":"#c6c8cf","opacity":1},"data":{"values":[{"h":165,"p":0.70178}]}},
 {"mark":{"type":"rect","fill":"#868a96","cornerRadius":4},"data":{"values":[{"h":51.5,"h2":81.85,"p":0.71741,"p2":0.71665},{"h":248.9,"h2":279.0,"p":0.72454,"p2":0.72377}]},"encoding":{"x2":{"field":"h2"},"y2":{"field":"p2"}}},
 {"mark":{"type":"text","fontSize":14.5,"color":"#131722"},"data":{"values":[{"h":66.63,"p":0.71704,"t":"0.01368 (1.95%) 136.8"},{"h":263.9,"p":0.72415,"t":"0.01371 (1.93%) 137.1"}]},"encoding":{"text":{"field":"t"}}},
 {"mark":{"type":"rule","color":"#ab8b14","strokeWidth":4},"data":{"values":[{"h":220,"p":0.72207,"h2":223.3,"p2":0.72249},{"h":245.9,"p":0.71754,"h2":249.4,"p2":0.71793},{"h":220,"p":0.71034,"h2":223.8,"p2":0.71075}]},"encoding":{"x2":{"field":"h2"},"y2":{"field":"p2"}}},
 {"mark":{"type":"point","filled":true,"size":26,"color":"#ab8b14","opacity":1},"data":{"values":[{"h":220,"p":0.72207},{"h":245.9,"p":0.71754},{"h":220,"p":0.71034}]}},
 {"mark":{"type":"rect","fill":"#ab8d26","stroke":"#b8860b","strokeWidth":1,"cornerRadius":3},"data":{"values":[{"h":221.4,"h2":232.6,"p":0.72319,"p2":0.72249},{"h":247.5,"h2":258.6,"p":0.71866,"p2":0.71793},{"h":221.5,"h2":232.6,"p":0.71142,"p2":0.71075}]},"encoding":{"x2":{"field":"h2"},"y2":{"field":"p2"}}},
 {"mark":{"type":"text","fontSize":11,"fontWeight":"bold","color":"#ffffff"},"data":{"values":[{"h":227,"p":0.72285,"t":"0.72210"},{"h":253,"p":0.7183,"t":"0.71755"},{"h":227.07,"p":0.71108,"t":"0.71035"}]},"encoding":{"text":{"field":"t"}}},
 {"mark":{"type":"text","fontSize":11.2,"color":"#b2b5be","align":"left"},"data":{"values":[{"h":67.97,"p":0.71515,"t":"161.80%(0.71492)"},{"h":104.33,"p":0.70834,"t":"0.618(0.70831)"},{"h":220.5,"p":0.72082,"t":"161.80%(0.72062)"},{"h":220.5,"p":0.71702,"t":"127.20%(0.71682)"},{"h":220.5,"p":0.7104,"t":"0.618(0.71039)"}]},"encoding":{"text":{"field":"t"}}},
 {"mark":{"type":"text","fontSize":12,"fontWeight":"bold","color":"#b2860d"},
  "data":{"values":[{"h":110.7,"p":0.71735,"t":"(1)"},{"h":111.0,"p":0.7166,"t":"5"},{"h":123.9,"p":0.71617,"t":"B"},{"h":113.9,"p":0.71247,"t":"A"},{"h":153.8,"p":0.71387,"t":"D"},{"h":175.0,"p":0.71409,"t":"(1)"},{"h":178.9,"p":0.71115,"t":"(2)"},{"h":142.1,"p":0.70929,"t":"C"},{"h":165.9,"p":0.70761,"t":"E"},{"h":165.9,"p":0.70659,"t":"(2)"},{"h":82.95,"p":0.71032,"t":"3"},{"h":87.1,"p":0.70781,"t":"4"},{"h":74.1,"p":0.70478,"t":"1"},{"h":77.05,"p":0.7021,"t":"2"},{"h":61.9,"p":0.70121,"t":"Y"},{"h":-15.2,"p":0.71067,"t":"Y"},{"h":219.8,"p":0.72298,"t":"(5)"},{"h":195.9,"p":0.71921,"t":"(3)"},{"h":203.9,"p":0.71689,"t":"(4)"},{"h":234.0,"p":0.71821,"t":"(4)"}]},"encoding":{"text":{"field":"t"}}},
 {"mark":{"type":"text","font":"Open Sans","fontSize":31.5,"fontWeight":"bold","fontStyle":"italic","color":"#6b6d7b"},"data":{"values":[{"h":68.88,"p":0.71875,"t":"Consolidation"}]},"encoding":{"text":{"field":"t"}}},
 {"mark":{"type":"text","font":"Open Sans","fontSize":14,"fontWeight":"bold","fontStyle":"italic","color":"#efb02a"},"data":{"values":[{"h":31.6,"p":0.71409,"t":"Horizontal Resistance"},{"h":253.06,"p":0.72231,"t":"Resistance and Target-Zone"},{"h":240.27,"p":0.71764,"t":"PoRR"},{"h":249.6,"p":0.71252,"t":"Strong Support-Zone"}]},"encoding":{"text":{"field":"t"}}},
 {"mark":{"type":"text","font":"Open Sans","fontSize":15,"fontWeight":"bold","angle":32,"color":"#efb02a"},"data":{"values":[{"h":149.5,"p":0.71307,"t":"Flag-Pattern"}]},"encoding":{"text":{"field":"t"}}},
 {"mark":{"type":"rect","fill":"#ab8d26"},"data":{"values":[{"h":225.5,"h2":246.2,"p":0.70088,"p2":0.7002}]},"encoding":{"x2":{"field":"h2"},"y2":{"field":"p2"}}},
 {"mark":{"type":"text","fontSize":12.5,"color":"#131722"},"data":{"values":[{"h":235.9,"p":0.70047,"t":"22-04-2021  20:00"}]},"encoding":{"text":{"field":"t"}}},
 {"mark":{"type":"rule","color":"#8a8a8a","strokeWidth":1},
  "data":{"values":[{"h":-15.53,"h2":316.2,"p":0.72454,"p2":0.72454},{"h":-15.53,"h2":316.2,"p":0.70006,"p2":0.70006},{"h":-15.53,"h2":-15.53,"p":0.72454,"p2":0.70006},{"h":316.2,"h2":316.2,"p":0.72454,"p2":0.70006},{"h":305.2,"h2":305.2,"p":0.72454,"p2":0.70006},{"h":-15.53,"h2":305.2,"p":0.70088,"p2":0.70088}]},
  "encoding":{"x2":{"field":"h2"},"y2":{"field":"p2"}}},
 {"mark":{"type":"rect","strokeWidth":0},
  "data":{"values":[
   {"k":"purple","h":305.25,"h2":315.3,"p":0.72283,"p2":0.7223},
   {"k":"orange","h":305.25,"h2":315.3,"p":0.72229,"p2":0.72179},
   {"k":"orange","h":305.25,"h2":315.3,"p":0.71769,"p2":0.71717},
   {"k":"black","h":305.25,"h2":315.3,"p":0.71472,"p2":0.71422},
   {"k":"orange","h":305.25,"h2":315.3,"p":0.7142,"p2":0.71369},
   {"k":"white","h":305.25,"h2":315.3,"p":0.71369,"p2":0.71277},
   {"k":"orange","h":305.25,"h2":315.3,"p":0.71207,"p2":0.71157},
   {"k":"salmon","h":305.25,"h2":315.3,"p":0.71063,"p2":0.71012}]},
  "encoding":{"x2":{"field":"h2"},"y2":{"field":"p2"},
   "fill":{"field":"k","type":"nominal","legend":null,"scale":{"domain":["purple","orange","black","white","salmon"],"range":["#8d80c4","#ffa726","#000000","#e8e8e8","#df806c"]}}}},
 {"mark":{"type":"text","fontSize":11.5,"align":"left","color":"#ffffff"},"data":{"values":[{"h":306.95,"p":0.72256,"t":"0.72211"},{"h":306.95,"p":0.71447,"t":"0.71378"},{"h":306.95,"p":0.71037,"t":"0.71040"}]},"encoding":{"text":{"field":"t"}}},
 {"mark":{"type":"text","fontSize":11.5,"align":"left","color":"#131722"},"data":{"values":[{"h":306.95,"p":0.72205,"t":"0.72208"},{"h":306.95,"p":0.71743,"t":"0.71745"},{"h":306.95,"p":0.71394,"t":"0.71376"},{"h":306.95,"p":0.71344,"t":"0.71347"},{"h":306.95,"p":0.713,"t":"58:27"},{"h":306.95,"p":0.71182,"t":"0.71182"}]},"encoding":{"text":{"field":"t"}}},
 {"mark":{"type":"rect","fill":"#131722","stroke":"#2a2e39","cornerRadius":4},"data":{"values":[{"h":308.1,"h2":313.1,"p":0.72435,"p2":0.7238}]},"encoding":{"x2":{"field":"h2"},"y2":{"field":"p2"}}},
 {"mark":{"type":"text","fontSize":11,"color":"#c8cad2"},"data":{"values":[{"h":310.6,"p":0.72407,"t":"CHF"}]},"encoding":{"text":{"field":"t"}}},
 {"mark":{"type":"text","fontSize":12.2,"align":"left","fontWeight":"bold","color":"#e0e3eb"},"data":{"values":[{"h":-15.53,"p":0.7255,"t":"Trading2ez"},{"h":-15.53,"p":0.72498,"t":"FX:AUDCHF, 60"},{"h":32.89,"p":0.72498,"t":"O:"},{"h":44.58,"p":0.72498,"t":"H:"},{"h":56.28,"p":0.72498,"t":"L:"},{"h":67.42,"p":0.72498,"t":"C:"}]},"encoding":{"text":{"field":"t"}}},
 {"mark":{"type":"text","fontSize":12.2,"align":"left","color":"#c8cad2"},"data":{"values":[{"h":-3.11,"p":0.7255,"t":"published on TradingView.com, April 20, 2021 08:01:34 CEST"},{"h":1.28,"p":0.72498,"t":"0.71347"},{"h":12.79,"p":0.72498,"t":"+0.00511 (+0.72%)"},{"h":-13.9,"p":0.72351,"t":"VPSV"},{"h":-13.9,"p":0.723,"t":"Vol"},{"h":-13.9,"p":0.72248,"t":"EMA"},{"h":-10.41,"p":0.69951,"t":"TradingView"}]},"encoding":{"text":{"field":"t"}}},
 {"mark":{"type":"text","fontSize":12,"align":"left","fontWeight":"bold","color":"#c8cad2"},"data":{"values":[{"h":-13.9,"p":0.72404,"t":"Australian Dollar / Swiss Franc, 1h, FXCM"}]},"encoding":{"text":{"field":"t"}}},
 {"mark":{"type":"text","fontSize":12.2,"align":"left","color":"#26a69a"},"data":{"values":[{"h":35.45,"p":0.72498,"t":"0.71354"},{"h":47.14,"p":0.72498,"t":"0.71357"},{"h":58.28,"p":0.72498,"t":"0.71332"},{"h":69.61,"p":0.72498,"t":"0.71347"}]},"encoding":{"text":{"field":"t"}}},
 {"mark":{"type":"point","shape":"triangle-up","filled":true,"size":70,"color":"#26a69a","opacity":1},"data":{"values":[{"h":11.15,"p":0.72498}]}},
 {"mark":{"type":"point","shape":"M -1 0.5 L -0.8 0 L -0.35 -0.3 L 0 -0.55 L 0.4 -0.3 L 0.8 -0.05 L 1 0.5 Z","filled":true,"size":700,"color":"#2196f3","opacity":1},"data":{"values":[{"h":-13.16,"p":0.69953}]}},
 {"mark":{"type":"line","color":"#131722","strokeWidth":1.5},"data":{"values":[{"h":-14.8,"p":0.69947},{"h":-13.7,"p":0.69968},{"h":-12.6,"p":0.69953},{"h":-11.33,"p":0.69965}]}}
]}
]
}
